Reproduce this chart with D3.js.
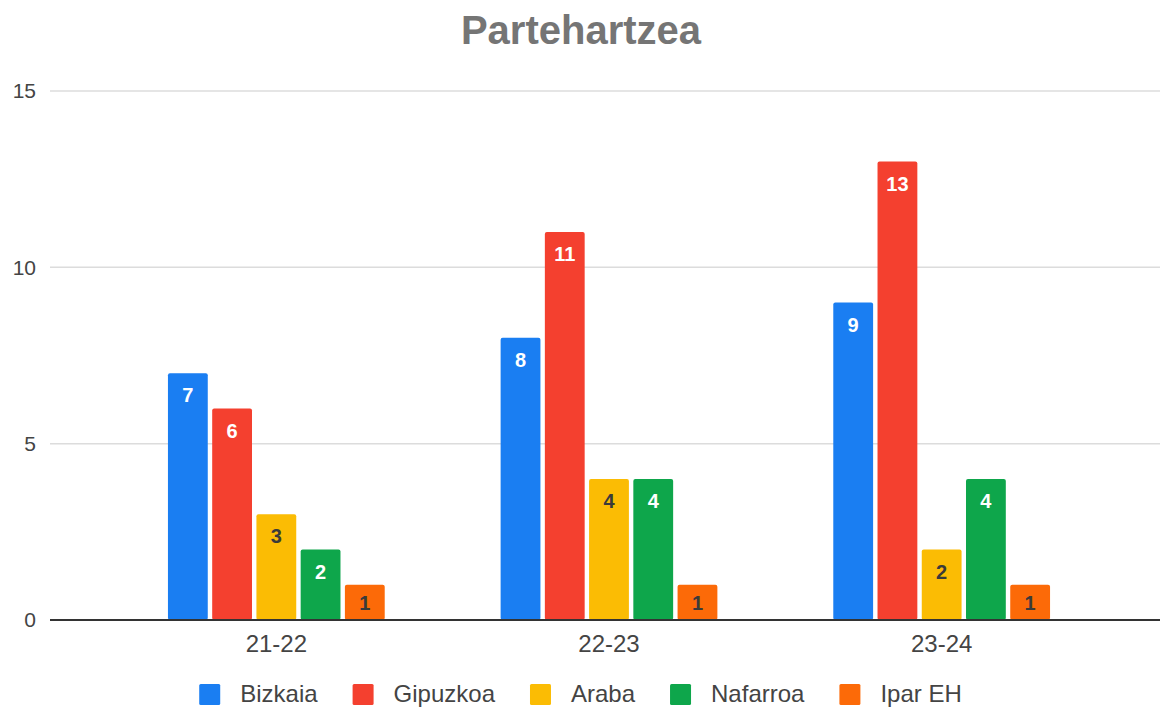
<!DOCTYPE html>
<html>
<head>
<meta charset="utf-8">
<script src="https://cdn.jsdelivr.net/npm/d3@7"></script>
<style>
  html, body { margin: 0; padding: 0; background: #fff; }
  svg { display: block; font-family: "Liberation Sans", Arial, sans-serif; }
</style>
</head>
<body>
<script>
"use strict";

// chart data
const seasons = ["21-22", "22-23", "23-24"];
const regions = ["Bizkaia", "Gipuzkoa", "Araba", "Nafarroa", "Ipar EH"];
const bizkaia = [7, 8, 9];
const gipuzkoa = [6, 11, 13];
const araba = [3, 4, 2];
const nafarroa = [2, 4, 4];
const iparEH = [1, 1, 1];
const yTicks = [0, 5, 10, 15];

const seriesValues = [bizkaia, gipuzkoa, araba, nafarroa, iparEH];
const colors = ["#1a7ef2", "#f4402f", "#fbbc04", "#0ea64b", "#fc6a08"];
const labelColors = ["#fff", "#fff", "#3a3a3a", "#fff", "#3a3a3a"];

const width = 1160;
const height = 709;

const svg = d3.select("body")
  .append("svg")
  .attr("width", width)
  .attr("height", height);

// title
svg.append("text")
  .attr("x", 581)
  .attr("y", 44)
  .attr("text-anchor", "middle")
  .attr("font-size", 40)
  .attr("font-weight", "bold")
  .attr("fill", "#757575")
  .text("Partehartzea");

const y = d3.scaleLinear().domain([0, 15]).range([620, 91]);

const x0 = d3.scaleBand().domain(seasons).range([110, 1108]);
const x1 = d3.scaleBand()
  .domain(regions)
  .range([0, x0.bandwidth()])
  .paddingInner(0.1)
  .paddingOuter(1.31);

// gridlines + y labels
const grid = svg.append("g");
grid.selectAll("line")
  .data(yTicks.filter((d) => d > 0))
  .join("line")
  .attr("x1", 50)
  .attr("x2", width)
  .attr("y1", (d) => y(d))
  .attr("y2", (d) => y(d))
  .attr("stroke", "#dcdcdc")
  .attr("stroke-width", 1.5);

grid.selectAll("text")
  .data(yTicks)
  .join("text")
  .attr("x", 36)
  .attr("y", (d) => y(d))
  .attr("dy", "0.35em")
  .attr("text-anchor", "end")
  .attr("font-size", 21)
  .attr("fill", "#444")
  .text((d) => d);

// bars
const groups = svg.append("g")
  .selectAll("g")
  .data(seasons)
  .join("g")
  .attr("transform", (d) => `translate(${x0(d)},0)`);

const cells = groups.selectAll("g")
  .data((s, i) => regions.map((r, j) => ({ region: r, idx: j, value: seriesValues[j][i] })))
  .join("g");

cells.append("rect")
  .attr("x", (d) => x1(d.region))
  .attr("y", (d) => y(d.value))
  .attr("width", x1.bandwidth())
  .attr("height", (d) => y(0) - y(d.value))
  .attr("rx", 2)
  .attr("fill", (d) => colors[d.idx]);

cells.append("text")
  .attr("x", (d) => x1(d.region) + x1.bandwidth() / 2)
  .attr("y", (d) => y(d.value) + Math.min(22, (y(0) - y(d.value)) / 2))
  .attr("dy", "0.36em")
  .attr("text-anchor", "middle")
  .attr("font-size", 20)
  .attr("font-weight", "bold")
  .attr("fill", (d) => labelColors[d.idx])
  .text((d) => d.value);

// baseline
svg.append("line")
  .attr("x1", 50)
  .attr("x2", width)
  .attr("y1", y(0))
  .attr("y2", y(0))
  .attr("stroke", "#333")
  .attr("stroke-width", 2);

// x labels
svg.append("g")
  .selectAll("text")
  .data(seasons)
  .join("text")
  .attr("x", (d) => x0(d) + x0.bandwidth() / 2)
  .attr("y", 644)
  .attr("dy", "0.35em")
  .attr("text-anchor", "middle")
  .attr("font-size", 24)
  .attr("fill", "#444")
  .text((d) => d);

// legend
const legend = svg.append("g");
const items = legend.selectAll("g")
  .data(regions)
  .join("g");

items.append("rect")
  .attr("x", 1)
  .attr("width", 21)
  .attr("height", 21)
  .attr("y", 684)
  .attr("rx", 1.5)
  .attr("fill", (d, i) => colors[i]);

items.append("text")
  .attr("x", 42)
  .attr("y", 694)
  .attr("dy", "0.35em")
  .attr("font-size", 24)
  .attr("fill", "#444")
  .text((d) => d);

let cursor = 0;
const offsets = [];
items.each(function () {
  offsets.push(cursor);
  const w = d3.select(this).select("text").node().getComputedTextLength();
  cursor += 42 + w + 34;
});
const total = cursor - 34;
const startX = 580 - total / 2;
items.attr("transform", (d, i) => `translate(${startX + offsets[i]},0)`);
</script>
</body>
</html>
